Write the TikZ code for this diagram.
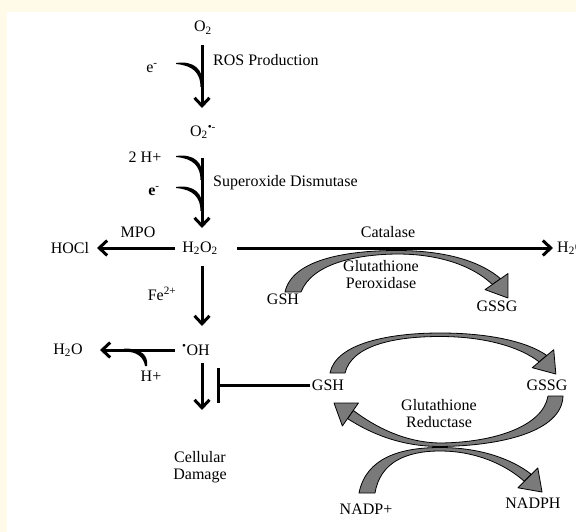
\documentclass[tikz,border=0pt]{standalone}
\usepackage{fontspec}
\setmainfont{Liberation Serif}
\usetikzlibrary{arrows.meta}
\definecolor{bgy}{RGB}{255,251,232}
\definecolor{gfill}{RGB}{122,122,122}
\newcommand{\ghead}[3]{\filldraw[garrow, shift={(#1,#2)}, rotate=#3] (0pt,14pt) -- (20pt,0pt) -- (0pt,-14pt) -- cycle;}
\newcommand{\vhook}[1]{\fill (176,#1) .. controls (194,#1-2.5) and (203.5,#1+6) .. (203.5,#1+24)
   -- (200.5,#1+24) .. controls (200.5,#1+10) and (193,#1+2.5) .. (176,#1+1) -- cycle;}
\begin{document}
\begin{tikzpicture}[x=1pt,y=-1pt,
  txt/.style={inner sep=0pt, font=\fontsize{16}{17}\selectfont, align=center},
  arr/.style={line width=3pt, -{Straight Barb[length=8pt,width=15pt]}},
  inhib/.style={line width=3pt, -{Bar[width=35pt]}},
  garrow/.style={fill=gfill, draw=black, line width=0.8pt, line join=round}]
\useasboundingbox (0,0) rectangle (576,532);
\fill[bgy] (0,0) rectangle (576,532);
\fill[white] (7,12) rectangle (576,532);

% texts
\node[txt] (O2) at (203,28) {O\textsubscript{2}};
\node[txt, anchor=west] (ros) at (213,60) {ROS Production};
\node[txt] (e1) at (152,68) {e\textsuperscript{-}};
\node[txt] (O2r) at (203,132) {O\textsubscript{2}\textsuperscript{•-}};
\node[txt] (twoH) at (145,157) {2 H+};
\node[txt] (e2) at (154,191) {\textbf{e}\textsuperscript{-}};
\node[txt, anchor=west] (sod) at (213,183) {Superoxide Dismutase};
\node[txt] (mpo) at (138,232) {MPO};
\node[txt] (hocl) at (70,248) {HOCl};
\node[txt] (h2o2) at (200,248) {H\textsubscript{2}O\textsubscript{2}};
\node[txt] (cat) at (388,232) {Catalase};
\node[txt, anchor=west] (h2or) at (557,248) {H\textsubscript{2}O};
\node[txt] (fe) at (162,294) {Fe\textsuperscript{2+}};
\node[txt] (oh) at (196,350) {\textsuperscript{•}OH};
\node[txt] (h2ol) at (68,350) {H\textsubscript{2}O};
\node[txt] (hp) at (151,376) {H+};
\node[txt] (gsh1) at (283,299) {GSH};
\node[txt] (gssg1) at (497,306) {GSSG};
\node[txt] (gp) at (381,275) {Glutathione\\Peroxidase};
\node[txt] (gsh2) at (328,385) {GSH};
\node[txt] (gssg2) at (547,385) {GSSG};
\node[txt] (gr) at (439,414) {Glutathione\\Reductase};
\node[txt] (cell) at (200,467) {Cellular\\Damage};
\node[txt] (nadp) at (366,509) {NADP+};
\node[txt] (nadph) at (533,503) {NADPH};

% coordinates on the main axis
\coordinate (a1) at (202,45);
\coordinate (a2) at (202,108);
\coordinate (b1) at (202,158);
\coordinate (b2) at (202,228);
\coordinate (c1) at (202,266);
\coordinate (c2) at (202,326);
\coordinate (d1) at (202,363);
\coordinate (d2) at (202,410);
\coordinate (m1) at (175,248);
\coordinate (m2) at (97,248);
\coordinate (k1) at (237,248);
\coordinate (k2) at (553,248);
\coordinate (w1) at (175,350);
\coordinate (w2) at (100,350);
\coordinate (i1) at (310,385);
\coordinate (i2) at (217,385);

% main arrows
\draw[arr] (a1) -- (a2);
\draw[arr] (b1) -- (b2);
\draw[arr] (c1) -- (c2);
\draw[arr] (d1) -- (d2);
\draw[arr] (m1) -- (m2);
\draw[arr] (k1) -- (k2);
\draw[arr] (w1) -- (w2);
\draw[inhib] (i1) -- (i2);

% hooks (electron / proton inputs)
\vhook{63}
\vhook{156}
\vhook{187}
\fill (147,366) .. controls (148.5,355) and (141,348.5) .. (124,348.5)
  -- (124,351.5) .. controls (137,351.5) and (143.5,357) .. (145,366) -- cycle;

% Glutathione peroxidase arc
\filldraw[garrow] (285,292) .. controls (292,260) and (345,250.5) .. (397,250.5)
  .. controls (445,250.5) and (480,261) .. (500.6,278.7)
  -- (492.4,284.5) .. controls (473,266) and (440,254) .. (397,254)
  .. controls (355,254.5) and (312,264) .. (301,292) -- cycle;
\ghead{496.5}{281.6}{-55}

% Glutathione reductase upper arc
\filldraw[garrow] (330,373) .. controls (336,343) and (390,333) .. (440,333)
  .. controls (490,333) and (528,342) .. (546.8,355.5)
  -- (539.2,361.9) .. controls (520,347) and (485,336.5) .. (440,336.5)
  .. controls (395,336.5) and (352,345) .. (345,373) -- cycle;
\ghead{543}{358.7}{-50}

% Glutathione reductase lower arc
\filldraw[garrow] (563,396) .. controls (562,432) and (500,446) .. (440,446.5)
  .. controls (400,446.5) and (370,433) .. (347.5,418.6)
  -- (353.3,410.4) .. controls (375,427) and (405,442.5) .. (440,443)
  .. controls (495,442.5) and (543,426) .. (548,396) -- cycle;
\ghead{350.4}{414.5}{145}

% NADP arc
\filldraw[garrow] (359,493) .. controls (366,458) and (400,447.5) .. (440,447.5)
  .. controls (480,447.5) and (512,459) .. (531.4,474.4)
  -- (524.4,481.4) .. controls (505,464) and (475,451) .. (440,451)
  .. controls (405,451) and (380,463) .. (375,493) -- cycle;
\ghead{527.9}{477.9}{-45}
\end{tikzpicture}
\end{document}
